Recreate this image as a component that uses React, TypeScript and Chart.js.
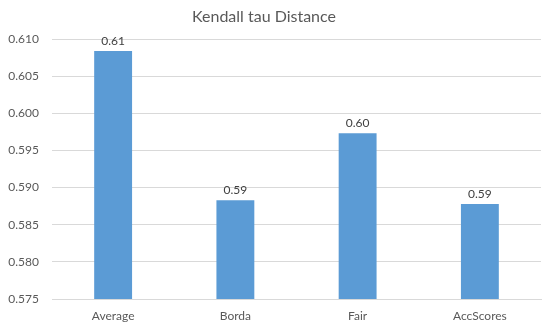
import React, { useEffect, useRef } from "react";
import { Chart, registerables } from "chart.js";

Chart.register(...registerables);

const titleText = "Kendall tau Distance";
const categories = ["Average", "Borda", "Fair", "AccScores"];
const values = [0.6084, 0.5883, 0.5973, 0.5878];
const yMin = 0.575;
const yMax = 0.61;
const yStep = 0.005;

const FONT = "Lato, 'Open Sans', sans-serif";
const TEXT = "#595959";

const labelPlugin = {
  id: "valueLabels",
  afterDatasetsDraw(chart: any) {
    const ctx = chart.ctx;
    const meta = chart.getDatasetMeta(0);
    ctx.save();
    ctx.font = `12px ${FONT}`;
    ctx.fillStyle = "#404040";
    ctx.textAlign = "center";
    ctx.textBaseline = "alphabetic";
    meta.data.forEach((bar: any, i: number) => {
      ctx.fillText(values[i].toFixed(2), bar.x, bar.y - 6);
    });
    ctx.restore();
  },
};

const titlePlugin = {
  id: "offsetTitle",
  afterDraw(chart: any) {
    const ctx = chart.ctx;
    ctx.save();
    ctx.font = `16px ${FONT}`;
    ctx.fillStyle = TEXT;
    ctx.textAlign = "center";
    ctx.textBaseline = "middle";
    ctx.fillText(titleText, 264, 17);
    ctx.restore();
  },
};

export default function App() {
  const ref = useRef<HTMLCanvasElement | null>(null);
  useEffect(() => {
    document.body.style.margin = "0";
    const chart = new Chart(ref.current!, {
      type: "bar",
      data: {
        labels: categories,
        datasets: [
          {
            data: values,
            backgroundColor: "#5B9BD5",
            barPercentage: 1,
            categoryPercentage: 0.31,
          },
        ],
      },
      options: {
        animation: false,
        responsive: true,
        maintainAspectRatio: false,
        layout: { padding: { top: 39, right: 9, left: 0, bottom: 0 } },
        plugins: {
          legend: { display: false },
          title: { display: false },
          tooltip: { enabled: false },
        },
        scales: {
          x: {
            grid: { display: false, drawTicks: false },
            border: { color: "#D9D9D9" },
            ticks: {
              color: TEXT,
              font: { family: FONT, size: 12 },
              padding: 10,
            },
            afterFit(scale: any) {
              scale.height = 28;
            },
          },
          y: {
            min: yMin,
            max: yMax,
            border: { display: false },
            grid: { color: "#D9D9D9", drawTicks: false },
            ticks: {
              stepSize: yStep,
              color: TEXT,
              font: { family: FONT, size: 12 },
              padding: 13,
              callback: (v: any) => Number(v).toFixed(3),
            },
            afterFit(scale: any) {
              scale.width = 52;
            },
          },
        },
      },
      plugins: [labelPlugin, titlePlugin],
    });
    return () => chart.destroy();
  }, []);
  return (
    <div style={{ width: 550, height: 327, position: "relative" }}>
      <canvas ref={ref} />
    </div>
  );
}
